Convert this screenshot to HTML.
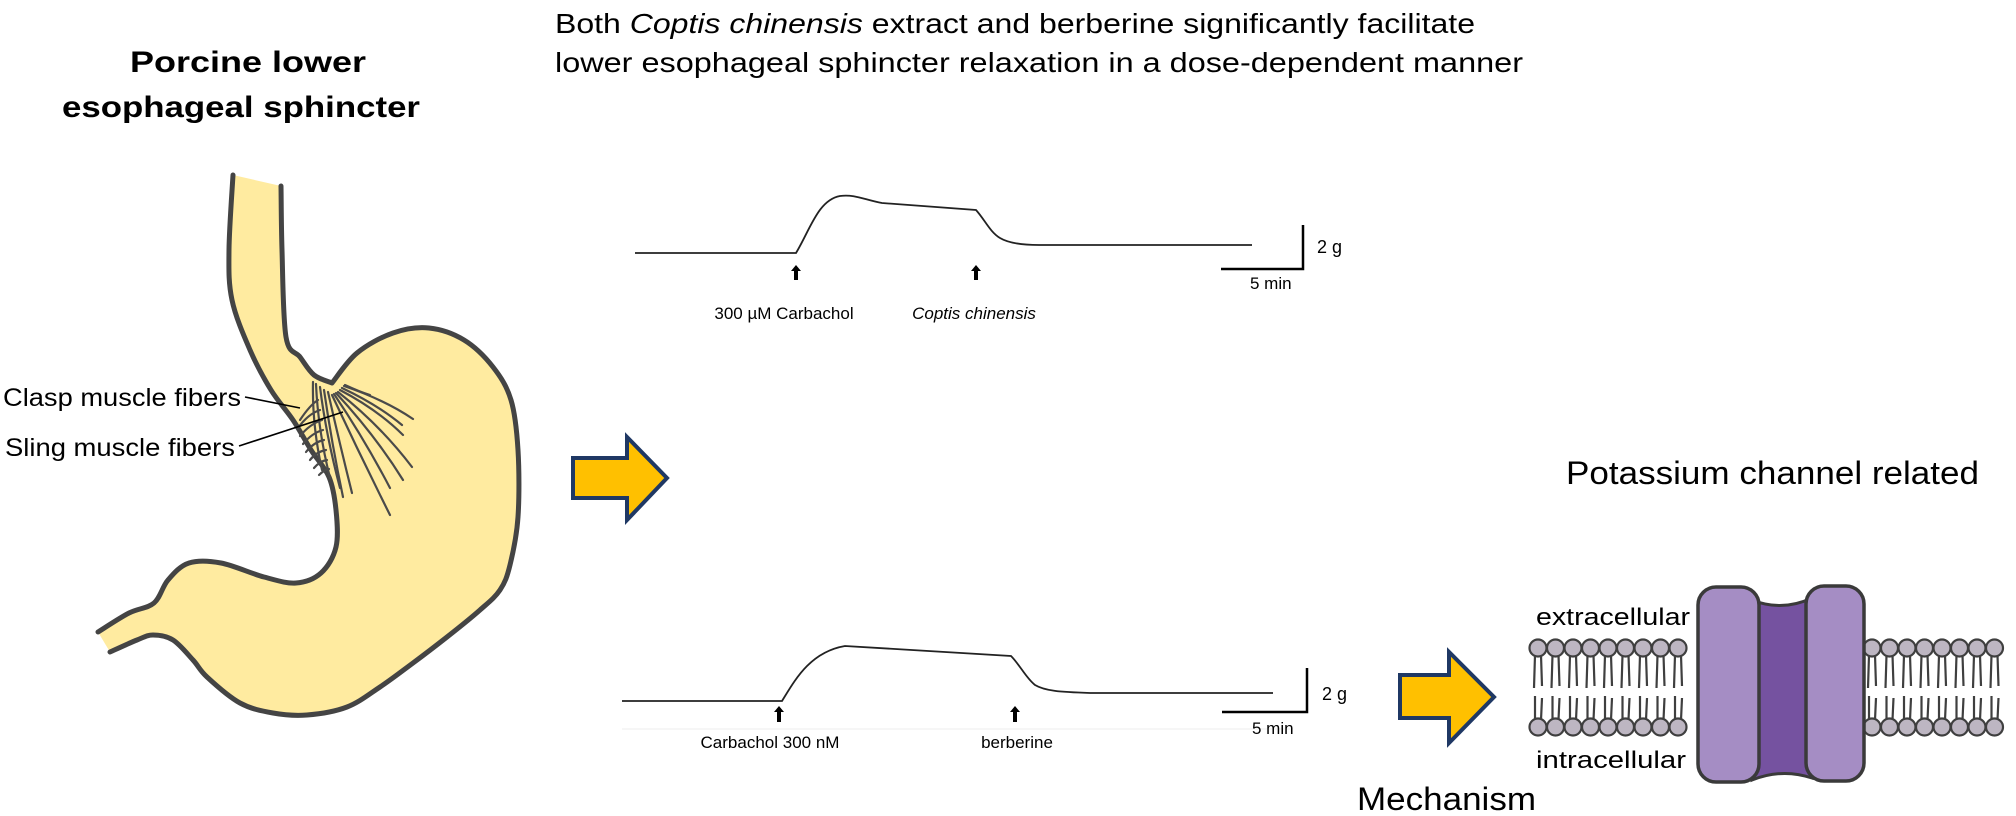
<!DOCTYPE html>
<html><head><meta charset="utf-8"><style>
html,body{margin:0;padding:0;background:#fff;}
svg{display:block;font-family:"Liberation Sans",sans-serif;}
</style></head><body>
<svg id="s" width="2016" height="816" viewBox="0 0 2016 816" xmlns="http://www.w3.org/2000/svg">
<!-- titles -->
<text x="555" y="33" font-size="28" textLength="920" lengthAdjust="spacingAndGlyphs">Both <tspan font-style="italic">Coptis chinensis</tspan> extract and berberine significantly facilitate</text>
<text x="555" y="72" font-size="28" textLength="968" lengthAdjust="spacingAndGlyphs">lower esophageal sphincter relaxation in a dose-dependent manner</text>
<text x="130" y="72" font-size="30" font-weight="bold" textLength="236" lengthAdjust="spacingAndGlyphs">Porcine lower</text>
<text x="62" y="117" font-size="30" font-weight="bold" textLength="358" lengthAdjust="spacingAndGlyphs">esophageal sphincter</text>

<!-- stomach -->
<path id="fill" fill="#FFEBA0"/>
<g fill="none" stroke="#444" stroke-width="5" stroke-linejoin="round" stroke-linecap="round">
<path id="e1"/>
<path id="e2"/>
</g>
<!-- fibers -->
<g fill="none" stroke="#4a4a4a" stroke-width="2.2" stroke-linecap="round">
<path d="M345,385 Q360,392 370,395"/>
<path d="M344,386 Q385,400 413,419"/>
<path d="M342,388 Q378,405 402,425"/>
<path d="M340,390 Q378,410 403,435"/>
<path d="M338,392 Q380,425 412,467"/>
<path d="M336,393 Q375,435 403,480"/>
<path d="M334,394 Q365,440 390,488"/>
<path d="M332,395 Q360,455 390,515"/>
<path d="M328,392 Q340,445 352,493"/>
<path d="M324,390 Q332,445 343,497"/>
<path d="M320,387 Q326,435 340,488"/>
<path d="M316,384 Q318,430 330,478"/>
<path d="M313,382 Q312,425 322,470"/>
<path d="M300,420 Q310,405 318,400"/>
<path d="M298,428 Q308,414 320,410"/>
<path d="M300,436 Q310,424 322,420"/>
<path d="M303,444 Q312,433 323,430"/>
<path d="M306,452 Q314,442 324,440"/>
<path d="M310,460 Q316,452 326,450"/>
<path d="M314,468 Q320,461 327,460"/>
<path d="M319,475 Q324,470 329,469"/>
</g>
<g stroke="#000" stroke-width="1.6">
<line x1="245" y1="397" x2="300" y2="408"/>
<line x1="239" y1="446" x2="343" y2="412"/>
</g>
<text x="3" y="406" font-size="25" textLength="238" lengthAdjust="spacingAndGlyphs">Clasp muscle fibers</text>
<text x="5" y="456" font-size="25" textLength="230" lengthAdjust="spacingAndGlyphs">Sling muscle fibers</text>

<!-- yellow arrows -->
<path d="M573,458 L627,458 L627,437 L667,478 L627,520 L627,498 L573,498 Z" fill="#FFC000" stroke="#1F3864" stroke-width="4" stroke-linejoin="miter"/>
<path d="M1400,675 L1449,675 L1449,652 L1494,697 L1449,743 L1449,718 L1400,718 Z" fill="#FFC000" stroke="#1F3864" stroke-width="4" stroke-linejoin="miter"/>

<!-- top trace -->
<path d="M635,253 L796,253 C810,230 818,200 840,196 C855,194 865,200 882,203 L976,210 C985,220 990,232 1000,238 C1010,244 1025,245 1039,245 L1252,245" fill="none" stroke="#222" stroke-width="1.8"/>
<g fill="#000">
<path d="M796,265 L791,271 L794,271 L794,280 L798,280 L798,271 L801,271 Z"/>
<path d="M976,265 L971,271 L974,271 L974,280 L978,280 L978,271 L981,271 Z"/>
</g>
<text x="784" y="319" font-size="17" text-anchor="middle">300 µM Carbachol</text>
<text x="974" y="319" font-size="17" text-anchor="middle" font-style="italic">Coptis chinensis</text>
<path d="M1221,269 L1303,269 L1303,225" fill="none" stroke="#000" stroke-width="2.5"/>
<text x="1317" y="253" font-size="18">2 g</text>
<text x="1250" y="289" font-size="17">5 min</text>

<!-- bottom trace -->
<path d="M622,701 L782,701 C795,680 810,652 845,646 L1011,656 C1020,665 1026,678 1035,685 C1045,691 1060,692 1090,693 L1273,693" fill="none" stroke="#222" stroke-width="1.8"/>
<line x1="622" y1="729" x2="1290" y2="729" stroke="#eee" stroke-width="1"/>
<g fill="#000">
<path d="M779,706 L774,712 L777,712 L777,722 L781,722 L781,712 L784,712 Z"/>
<path d="M1015,706 L1010,712 L1013,712 L1013,722 L1017,722 L1017,712 L1020,712 Z"/>
</g>
<text x="770" y="748" font-size="17" text-anchor="middle">Carbachol 300 nM</text>
<text x="1017" y="748" font-size="17" text-anchor="middle">berberine</text>
<path d="M1222,712 L1307,712 L1307,668" fill="none" stroke="#000" stroke-width="2.5"/>
<text x="1322" y="700" font-size="18">2 g</text>
<text x="1252" y="734" font-size="17">5 min</text>

<!-- right side -->
<text x="1566" y="484" font-size="32" textLength="413" lengthAdjust="spacingAndGlyphs">Potassium channel related</text>
<text x="1357" y="810" font-size="32" textLength="179" lengthAdjust="spacingAndGlyphs">Mechanism</text>
<text x="1536" y="625" font-size="24" textLength="154" lengthAdjust="spacingAndGlyphs">extracellular</text>
<text x="1536" y="768" font-size="24" textLength="150" lengthAdjust="spacingAndGlyphs">intracellular</text>
<g id="lip" stroke="#3f3f3f" stroke-width="2.2" fill="#bdb6c2"></g>
<!-- channel -->
<path d="M1752,600 Q1782,612 1812,598 L1812,778 Q1782,768 1752,780 Z" fill="#7552A0" stroke="#3a3a3a" stroke-width="3"/>
<rect x="1698" y="587" width="61" height="195" rx="18" fill="#A58DC4" stroke="#3a3a3a" stroke-width="3.5"/>
<rect x="1806" y="586" width="58" height="195" rx="18" fill="#A58DC4" stroke="#3a3a3a" stroke-width="3.5"/>
</svg>
<script>
function cr(p){var d='M'+p[0][0]+','+p[0][1];for(var i=0;i<p.length-1;i++){var a=p[i-1]||p[i],b=p[i],c=p[i+1],e=p[i+2]||c;
d+=' C'+(b[0]+(c[0]-a[0])/6).toFixed(1)+','+(b[1]+(c[1]-a[1])/6).toFixed(1)+' '+(c[0]-(e[0]-b[0])/6).toFixed(1)+','+(c[1]-(e[1]-b[1])/6).toFixed(1)+' '+c[0]+','+c[1];}return d;}
var A=[[233,175],[229,250],[232,300],[250,350],[271,390],[293,420],[311,450],[329,477],[336,510],[336,547],[321,573],[296,583],[264,577],[221,563],[189,563],[168,580],[154,603],[129,613],[98,632]];
var B=[[110,652],[137,640],[153,635],[173,640],[193,660],[207,677],[240,703],[273,713],[307,715],[347,707],[380,687],[413,663],[447,637],[480,610],[500,590],[510,565],[518,517],[518,450],[511,400],[493,367],[464,340],[429,328],[393,333],[357,353],[332,383]];
var C=[[332,383],[314,375],[300,357],[286,337],[282,250],[281,186]];
var e1=cr(A),e2=cr(B),e3=cr(C);
document.getElementById('e1').setAttribute('d',e1);
document.getElementById('e2').setAttribute('d',e2+' '+e3.replace('M',' L'));
document.getElementById('fill').setAttribute('d',e1+' L110,652 '+e2.replace('M',' L')+' '+e3.replace('M',' L')+' Z');
var g=document.getElementById('lip'),h='';
function row(x0,x1){for(var x=x0;x<=x1;x+=17.5){
h+='<path fill="none" d="M'+(x-3)+',655 L'+(x-4)+',688 M'+(x+3)+',655 L'+(x+4)+',686"/>';
h+='<path fill="none" d="M'+(x-3)+',720 L'+(x-3)+',696 M'+(x+3)+',720 L'+(x+4)+',698"/>';
h+='<circle cx="'+x+'" cy="648" r="8.5"/><circle cx="'+x+'" cy="727" r="8.5"/>';}}
row(1538,1695);row(1872,2005);
g.innerHTML=h;
</script>
</body></html>
